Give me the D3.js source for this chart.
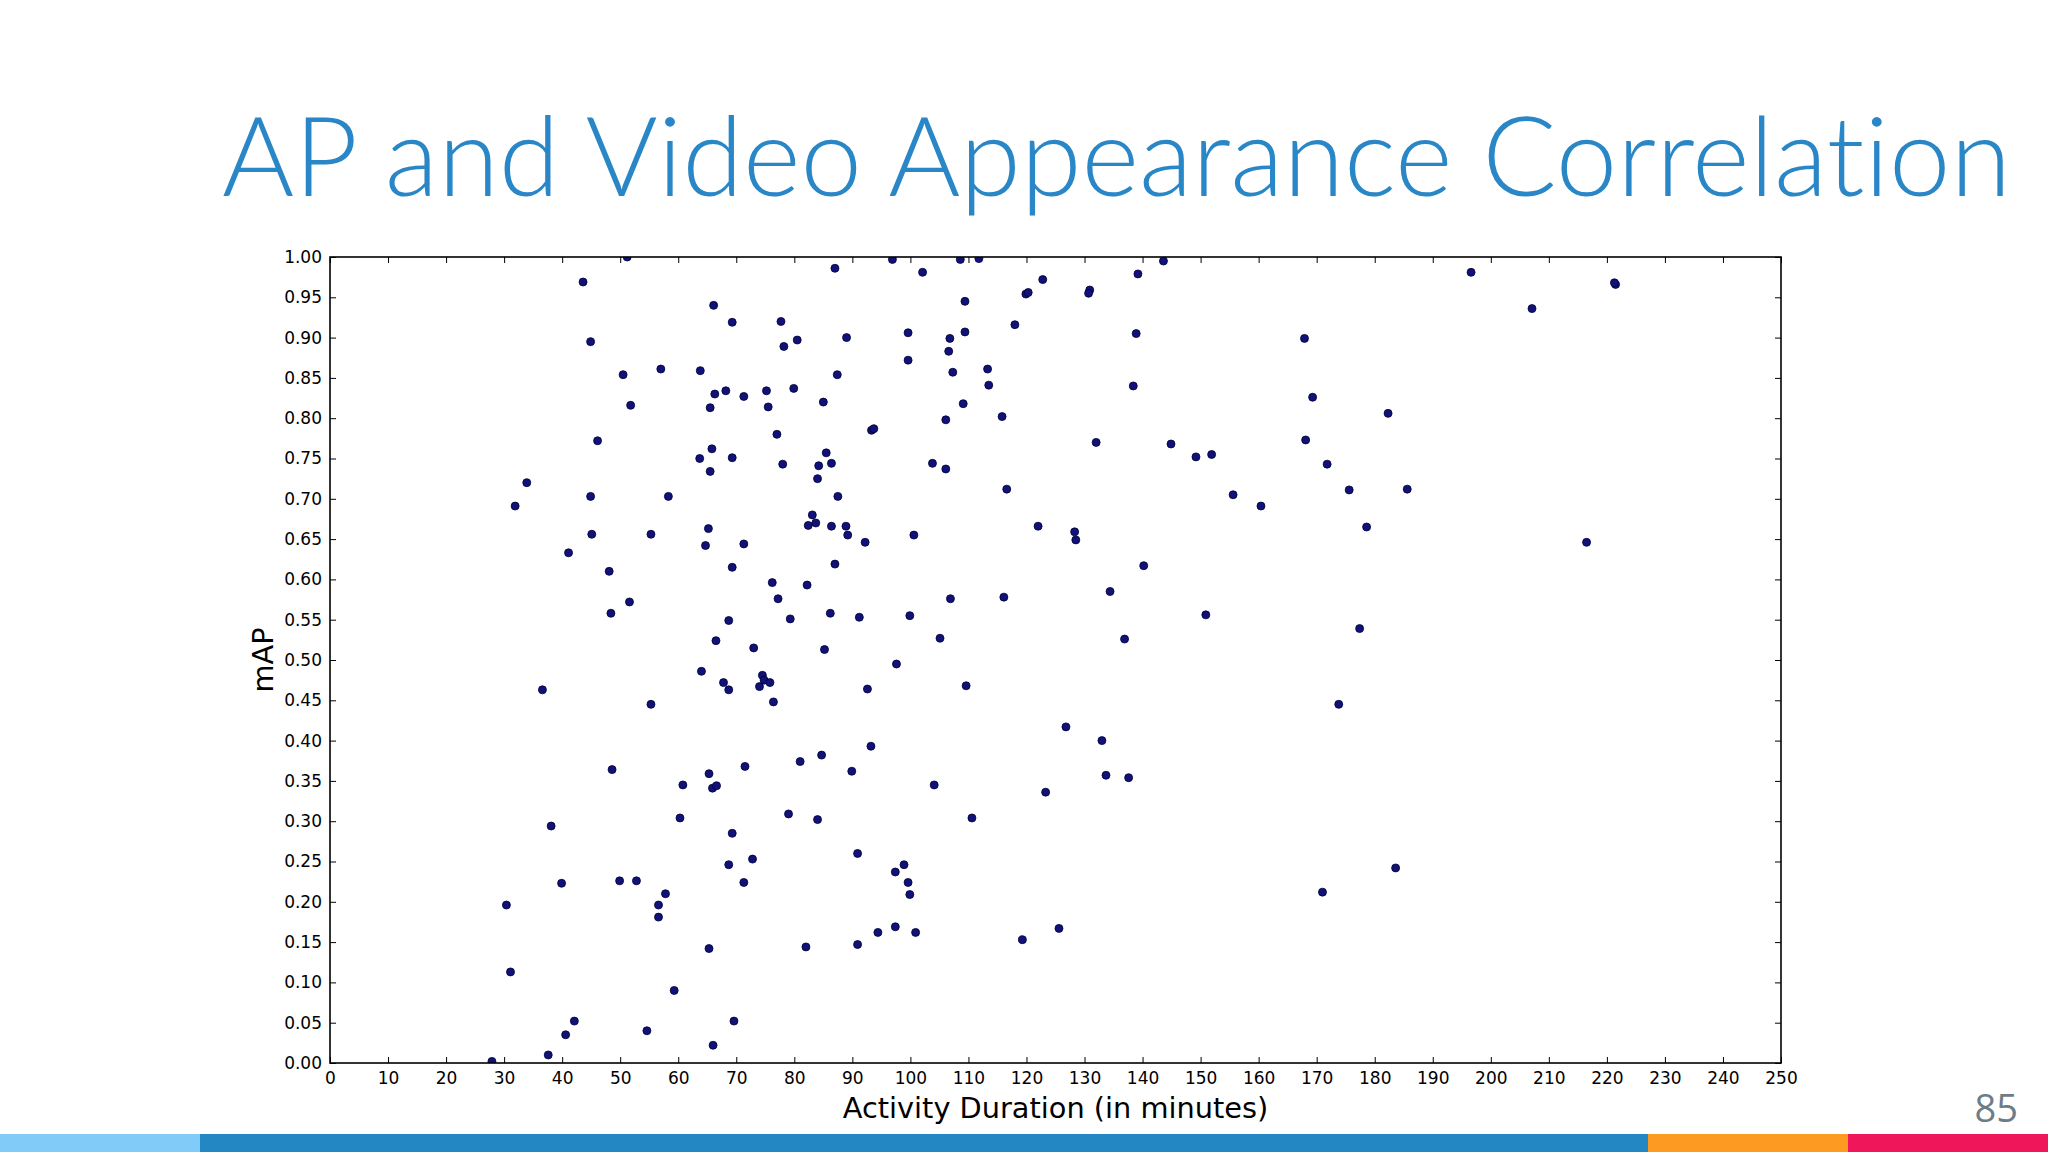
<!DOCTYPE html>
<html>
<head>
<meta charset="utf-8">
<script src="https://cdn.jsdelivr.net/npm/d3@7"></script>
<style>
  html, body { margin: 0; padding: 0; background: #ffffff; }
  svg { display: block; }
  text { font-variant-ligatures: none; font-feature-settings: "liga" 0, "clig" 0; }
</style>
</head>
<body>
<svg id="chart" width="2048" height="1152"></svg>
<script>
// ---- Data ----
const titleText = "AP and Video Appearance Correlation";
const xLabel = "Activity Duration (in minutes)";
const yLabel = "mAP";
const pageNumber = "85";

const xTicks = [0,10,20,30,40,50,60,70,80,90,100,110,120,130,140,150,160,170,180,190,200,210,220,230,240,250];
const yTicks = [0,0.05,0.10,0.15,0.20,0.25,0.30,0.35,0.40,0.45,0.50,0.55,0.60,0.65,0.70,0.75,0.80,0.85,0.90,0.95,1.00];

const durations = [
  51.2,43.6,66.1,44.9,50.5,57.0,63.8,66.3,51.8,65.5,46.1,65.8,63.7,65.5,33.9,44.9,58.3,31.9,65.2,
  87.0,96.9,102.1,108.6,111.8,122.8,119.9,120.3,130.9,130.7,109.4,69.3,77.7,118.0,99.6,109.4,89.0,80.5,106.8,78.2,
  106.6,99.6,107.3,87.4,113.3,113.5,68.2,71.3,75.2,79.9,75.5,85.0,109.1,106.1,115.8,93.3,93.7,77.0,132.0,69.3,
  78.0,85.5,84.2,86.4,103.8,106.1,116.6,84.0,87.5,83.1,82.4,83.7,86.4,88.9,122.0,
  45.1,55.3,41.1,64.7,48.1,51.6,48.4,66.5,64.0,36.6,55.3,48.6,65.3,60.8,65.9,66.6,
  89.2,92.2,100.6,128.3,128.5,71.3,69.3,87.0,76.2,82.2,77.2,106.9,116.1,68.7,79.3,86.2,91.2,99.9,105.1,73.0,
  85.2,97.6,74.5,74.8,75.8,74.0,67.8,68.7,76.4,92.6,109.6,126.8,133.0,93.2,84.7,81.0,71.5,89.9,104.1,123.3,133.7,
  38.1,60.3,39.9,49.9,52.8,57.8,56.6,56.6,30.4,31.1,65.3,59.3,42.1,40.6,54.6,37.6,27.9,66.0,
  79.0,84.0,110.6,69.3,68.7,72.8,71.3,90.9,98.9,97.4,99.6,99.9,97.4,94.4,100.9,90.9,82.0,119.3,125.6,69.6,
  143.6,139.2,196.6,221.5,221.3,207.1,138.9,167.9,138.4,169.3,182.3,144.9,149.2,151.9,168.1,171.8,175.6,185.6,
  155.6,160.4,178.6,216.5,140.2,134.4,150.9,136.9,177.4,
  173.8,137.6,183.6,171.0
];
const mapValues = [
  1.000,0.969,0.940,0.895,0.854,0.861,0.859,0.830,0.816,0.813,0.772,0.762,0.750,0.734,0.720,0.703,0.703,0.691,0.663,
  0.986,0.997,0.981,0.997,0.998,0.972,0.954,0.956,0.959,0.955,0.945,0.919,0.920,0.916,0.906,0.907,0.900,0.897,0.899,0.889,
  0.883,0.872,0.857,0.854,0.861,0.841,0.834,0.827,0.834,0.837,0.814,0.820,0.818,0.798,0.802,0.785,0.787,0.780,0.770,0.751,
  0.743,0.757,0.741,0.744,0.744,0.737,0.712,0.725,0.703,0.680,0.667,0.670,0.666,0.666,0.666,
  0.656,0.656,0.633,0.642,0.610,0.572,0.558,0.524,0.486,0.463,0.445,0.364,0.359,0.345,0.341,0.344,
  0.655,0.646,0.655,0.659,0.649,0.644,0.615,0.619,0.596,0.593,0.576,0.576,0.578,0.549,0.551,0.558,0.553,0.555,0.527,0.515,
  0.513,0.495,0.481,0.475,0.472,0.467,0.472,0.463,0.448,0.464,0.468,0.417,0.400,0.393,0.382,0.374,0.368,0.362,0.345,0.336,0.357,
  0.294,0.304,0.223,0.226,0.226,0.210,0.196,0.181,0.196,0.113,0.142,0.090,0.052,0.035,0.040,0.010,0.002,0.022,
  0.309,0.302,0.304,0.285,0.246,0.253,0.224,0.260,0.246,0.237,0.224,0.209,0.169,0.162,0.162,0.147,0.144,0.153,0.167,0.052,
  0.995,0.979,0.981,0.966,0.968,0.936,0.905,0.899,0.840,0.826,0.806,0.768,0.752,0.755,0.773,0.743,0.711,0.712,
  0.705,0.691,0.665,0.646,0.617,0.585,0.556,0.526,0.539,
  0.445,0.354,0.242,0.212
];

const barColors = ["#80cbf8", "#2387c4", "#fd9a22", "#ef1659"];
const barStops = [0, 200, 1648, 1848, 2048];

// ---- Drawing ----
const svg = d3.select("#chart");
const W = 2048, H = 1152;
const plot = { left: 330, right: 1781, top: 257, bottom: 1063 };

svg.append("rect").attr("width", W).attr("height", H).attr("fill", "#ffffff");

// Title
svg.append("text")
  .attr("x", 222).attr("y", 196)
  .attr("font-family", "Lato, 'Open Sans', sans-serif")
  .attr("font-weight", 300)
  .attr("font-size", 110)
  .attr("fill", "#2a87c7")
  .attr("textLength", 1789)
  .attr("lengthAdjust", "spacingAndGlyphs")
  .style("font-variant-ligatures", "none")
  .text(titleText);

const x = d3.scaleLinear().domain([0, 250]).range([plot.left, plot.right]);
const y = d3.scaleLinear().domain([0, 1]).range([plot.bottom, plot.top]);

const axisFont = "'DejaVu Sans', sans-serif";

// Bottom axis with labels
const gx = svg.append("g").attr("transform", `translate(0,${plot.bottom})`)
  .call(d3.axisBottom(x).tickValues(xTicks).tickFormat(d3.format("d")).tickSize(-6).tickPadding(9));
// Left axis with labels
const gy = svg.append("g").attr("transform", `translate(${plot.left},0)`)
  .call(d3.axisLeft(y).tickValues(yTicks).tickFormat(d3.format(".2f")).tickSize(-6).tickPadding(8));
// Top and right ticks, no labels
const gt = svg.append("g").attr("transform", `translate(0,${plot.top})`)
  .call(d3.axisTop(x).tickValues(xTicks).tickFormat("").tickSize(-6));
const gr = svg.append("g").attr("transform", `translate(${plot.right},0)`)
  .call(d3.axisRight(y).tickValues(yTicks).tickFormat("").tickSize(-6));

[gx, gy, gt, gr].forEach(g => {
  g.select(".domain").remove();
  g.selectAll(".tick line").attr("stroke", "#000").attr("stroke-width", 1);
  g.selectAll(".tick text")
    .attr("font-family", axisFont)
    .attr("font-size", 17)
    .attr("fill", "#000");
});

// Clip path for markers
svg.append("clipPath").attr("id", "plotClip")
  .append("rect")
  .attr("x", plot.left).attr("y", plot.top)
  .attr("width", plot.right - plot.left).attr("height", plot.bottom - plot.top);

const points = durations.map((d, i) => ({ d: d, m: mapValues[i] }));

svg.append("g").attr("clip-path", "url(#plotClip)")
  .selectAll("circle")
  .data(points)
  .join("circle")
  .attr("cx", p => x(p.d))
  .attr("cy", p => y(p.m))
  .attr("r", 4)
  .attr("fill", "#11117a")
  .attr("stroke", "#000033")
  .attr("stroke-width", 0.8);

// Frame
svg.append("rect")
  .attr("x", plot.left).attr("y", plot.top)
  .attr("width", plot.right - plot.left).attr("height", plot.bottom - plot.top)
  .attr("fill", "none").attr("stroke", "#000").attr("stroke-width", 1.6);

// Axis labels
svg.append("text")
  .attr("x", (plot.left + plot.right) / 2).attr("y", 1118)
  .attr("text-anchor", "middle")
  .attr("font-family", axisFont)
  .attr("font-size", 28.8)
  .attr("fill", "#000")
  .text(xLabel);

svg.append("text")
  .attr("transform", `translate(273,${(plot.top + plot.bottom) / 2}) rotate(-90)`)
  .attr("text-anchor", "middle")
  .attr("font-family", axisFont)
  .attr("font-size", 28.8)
  .attr("fill", "#000")
  .text(yLabel);

// Page number
svg.append("text")
  .attr("x", 2018).attr("y", 1122)
  .attr("text-anchor", "end")
  .attr("font-family", "'Open Sans', sans-serif")
  .attr("font-size", 38)
  .attr("fill", "#6d7c87")
  .text(pageNumber);

// Bottom colour bar
svg.append("g").selectAll("rect")
  .data(barColors)
  .join("rect")
  .attr("x", (c, i) => barStops[i])
  .attr("width", (c, i) => barStops[i + 1] - barStops[i])
  .attr("y", 1134).attr("height", 18)
  .attr("fill", c => c);
</script>
</body>
</html>
